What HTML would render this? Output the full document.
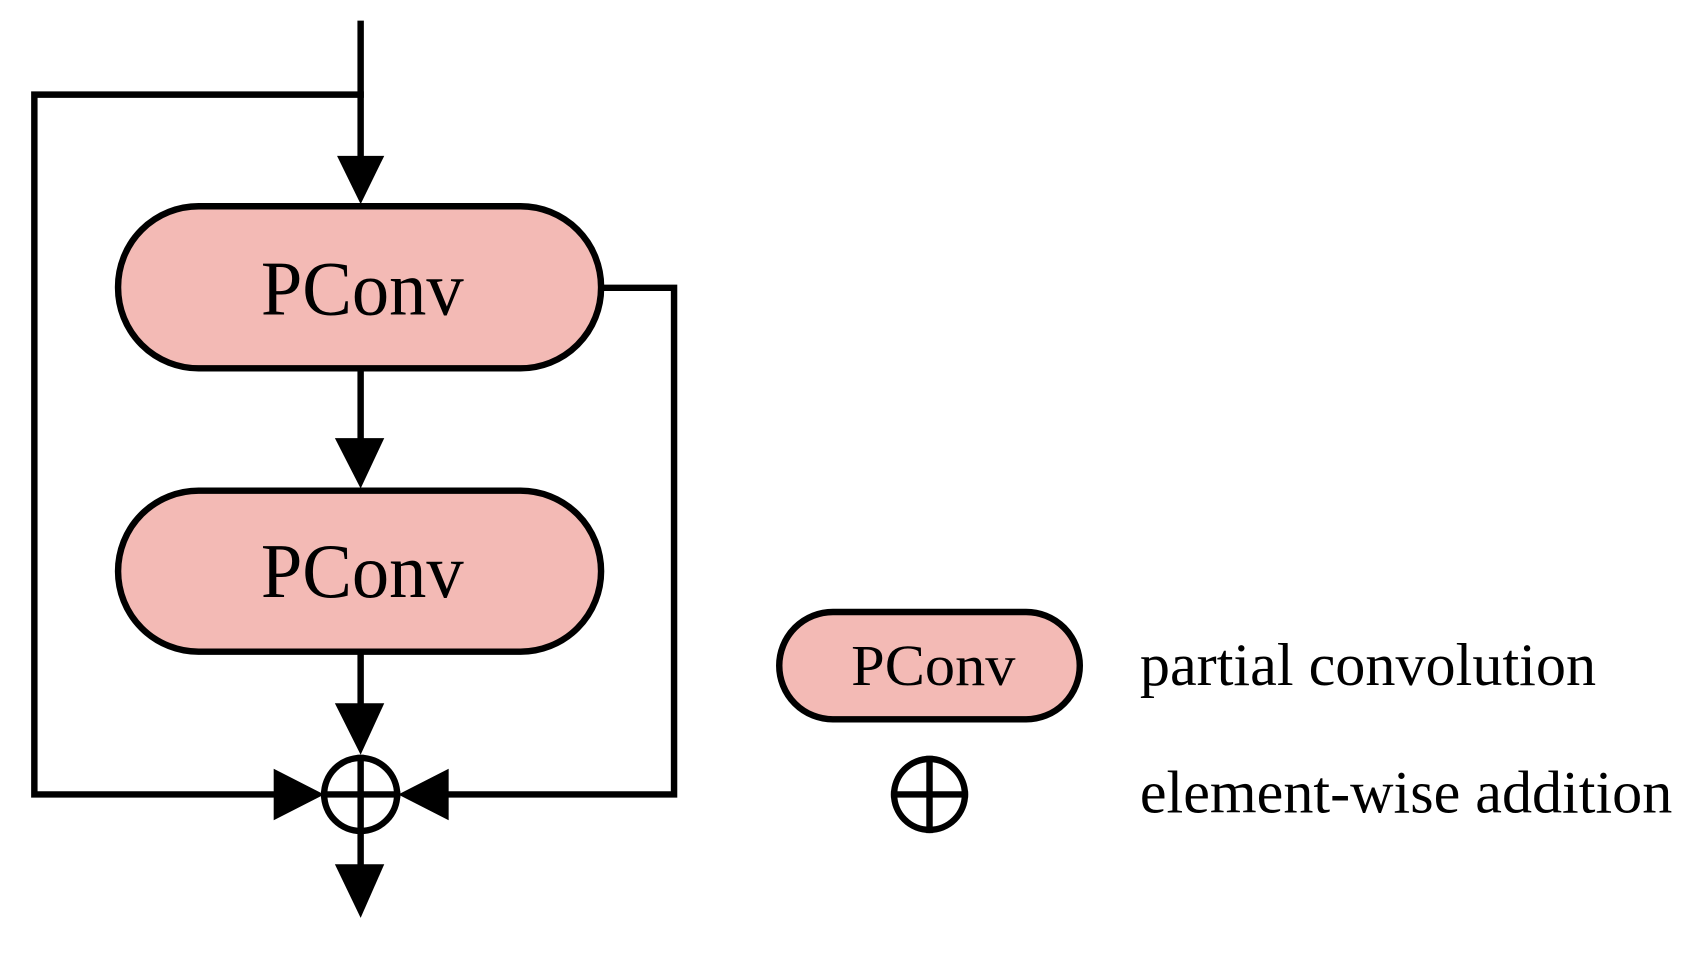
<!DOCTYPE html>
<html><head><meta charset="utf-8"><style>html,body{margin:0;padding:0;background:#fff;}svg{display:block}</style></head>
<body>
<svg width="1683" height="961" viewBox="0 0 1568 895" xmlns="http://www.w3.org/2000/svg" font-family="Liberation Serif, serif">
<g stroke="#000" stroke-width="6" fill="none" stroke-linecap="square">
<line x1="336" y1="22" x2="336" y2="150"/>
<polyline points="336,88 32,88 32,740 260,740"/>
<polyline points="560,268 628,268 628,740 412,740"/>
<line x1="336" y1="343" x2="336" y2="412"/>
<line x1="336" y1="607" x2="336" y2="660"/>
<line x1="336" y1="706" x2="336" y2="810"/>
<line x1="302" y1="740" x2="370" y2="740"/>
<rect x="110" y="192" width="450" height="151" rx="75" fill="#f3bab5"/>
<rect x="110" y="457" width="450" height="150" rx="75" fill="#f3bab5"/>
<circle cx="336" cy="740" r="34"/>
<rect x="726" y="570" width="280" height="100" rx="50" fill="#f3bab5"/>
<circle cx="866" cy="740" r="33"/>
<line x1="833" y1="740" x2="899" y2="740"/>
<line x1="866" y1="707" x2="866" y2="773"/>
</g>
<g fill="#000">
<polygon points="314,145 358,145 336,190"/>
<polygon points="312,408 358,408 336,455"/>
<polygon points="312,655 358,655 336,703"/>
<polygon points="312,805 358,805 336,855"/>
<polygon points="255,716 255,764 302,740"/>
<polygon points="418,716 418,764 371,740"/>
</g>
<g fill="#000">
<text x="243" y="293" font-size="72" textLength="189" lengthAdjust="spacingAndGlyphs">PConv</text>
<text x="243" y="556" font-size="72" textLength="189" lengthAdjust="spacingAndGlyphs">PConv</text>
<text x="793" y="638" font-size="54" textLength="153" lengthAdjust="spacingAndGlyphs">PConv</text>
<text x="1062" y="638" font-size="56" textLength="425" lengthAdjust="spacingAndGlyphs">partial convolution</text>
<text x="1062" y="757" font-size="56" textLength="496" lengthAdjust="spacingAndGlyphs">element-wise addition</text>
</g>
</svg>
</body></html>
